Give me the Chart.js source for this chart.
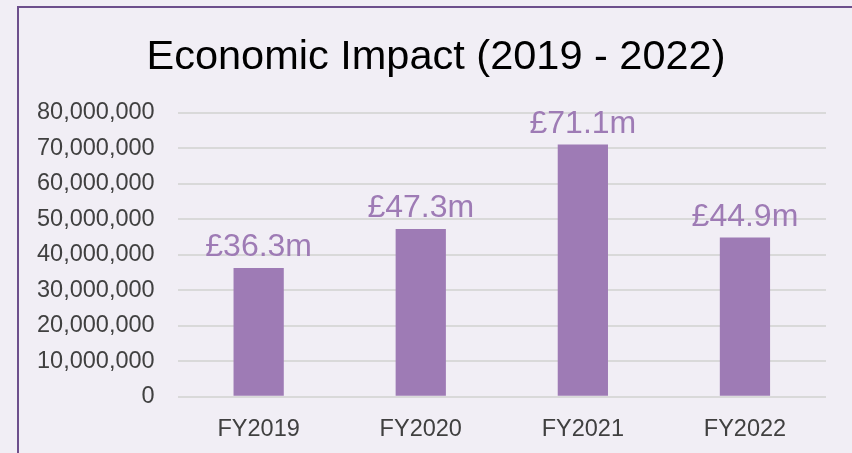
<!DOCTYPE html>
<html>
<head>
<meta charset="utf-8">
<script src="https://cdn.jsdelivr.net/npm/chart.js@4"></script>
<style>
  html, body { margin: 0; padding: 0; background: #f1eef5; }
  #wrap { position: relative; width: 852px; height: 453px; overflow: hidden; }
  #frame { position: absolute; left: 17px; top: 6px; width: 900px; height: 500px;
           border-left: 2px solid #6d4f8c; border-top: 2px solid #6d4f8c; }
  canvas { position: absolute; left: 0; top: 0; }
</style>
</head>
<body>
<div id="wrap">
  <div id="frame"></div>
  <canvas id="chart" width="852" height="453"></canvas>
</div>
<script>
var chartTitle = 'Economic Impact (2019 - 2022)';
var categories = ['FY2019', 'FY2020', 'FY2021', 'FY2022'];
var impact = [36300000, 47300000, 71100000, 44900000];
var impactLabels = ['£36.3m', '£47.3m', '£71.1m', '£44.9m'];

var police = '"Liberation Sans", Arial, sans-serif';

// titre + montants au dessus des barres
var barLabels = {
  id: 'barLabels',
  afterDatasetsDraw: function(chart) {
    var ctx = chart.ctx;
    var meta = chart.getDatasetMeta(0);
    ctx.save();
    ctx.textAlign = 'center';
    ctx.textBaseline = 'alphabetic';
    ctx.font = '41.5px ' + police;
    ctx.fillStyle = '#000000';
    ctx.fillText(chartTitle, 436, 69);
    ctx.font = '32px ' + police;
    ctx.fillStyle = '#9e7bb5';
    for (var i = 0; i < meta.data.length; i++) {
      var bar = meta.data[i];
      ctx.fillText(impactLabels[i], bar.x, bar.y - 12);
    }
    ctx.restore();
  }
};

new Chart(document.getElementById('chart'), {
  type: 'bar',
  data: {
    labels: categories,
    datasets: [{
      label: 'Economic Impact',
      data: impact,
      backgroundColor: '#9e7bb5',
      barPercentage: 0.31,
      categoryPercentage: 1
    }]
  },
  options: {
    responsive: false,
    animation: false,
    layout: { padding: { left: 14, right: 26, top: 113, bottom: -10 } },
    plugins: {
      legend: { display: false },
      tooltip: { enabled: false },
      title: { display: false }
    },
    scales: {
      y: {
        min: 0,
        max: 80000000,
        ticks: {
          stepSize: 10000000,
          padding: 23,
          color: '#404040',
          font: { family: police, size: 23.5 },
          callback: function(v) { return v.toLocaleString('en-GB'); }
        },
        grid: { color: '#d9d9d9', lineWidth: 2, drawTicks: false },
        border: { display: false }
      },
      x: {
        ticks: {
          padding: 19,
          color: '#404040',
          font: { family: police, size: 23.5 }
        },
        grid: { display: false, drawTicks: false },
        border: { display: false }
      }
    }
  },
  plugins: [barLabels]
});
</script>
</body>
</html>
